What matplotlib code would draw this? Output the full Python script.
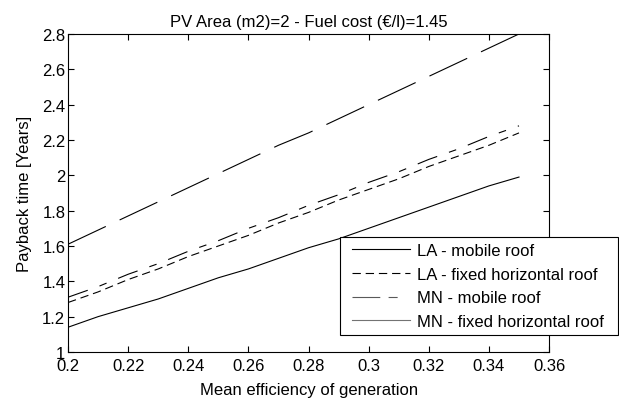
import numpy as np
import matplotlib
matplotlib.use("Agg")
import matplotlib.pyplot as plt
from matplotlib.lines import Line2D
from matplotlib.legend_handler import HandlerLine2D

plt.rcParams['font.family'] = ['Liberation Sans', 'DejaVu Sans']
plt.rcParams['lines.scale_dashes'] = False

# efficienza media e tempi di ritorno
efficienza = [0.20, 0.21, 0.22, 0.23, 0.24, 0.25, 0.26, 0.27,
              0.28, 0.29, 0.30, 0.31, 0.32, 0.33, 0.34, 0.35]
la_mobile = [1.14, 1.20, 1.25, 1.30, 1.36, 1.42, 1.47, 1.53,
             1.59, 1.64, 1.70, 1.76, 1.82, 1.88, 1.94, 1.99]
la_fisso = [1.28, 1.34, 1.41, 1.47, 1.54, 1.60, 1.66, 1.73,
            1.79, 1.86, 1.92, 1.98, 2.05, 2.11, 2.17, 2.24]
mn_mobile = [1.61, 1.69, 1.77, 1.85, 1.93, 2.01, 2.09, 2.17,
             2.24, 2.32, 2.40, 2.48, 2.56, 2.64, 2.72, 2.80]
mn_fisso = [1.31, 1.37, 1.44, 1.50, 1.57, 1.63, 1.70, 1.76,
            1.83, 1.89, 1.96, 2.02, 2.09, 2.15, 2.22, 2.28]

etichette = ["LA - mobile roof", "LA - fixed horizontal roof",
             "MN - mobile roof", "MN - fixed horizontal roof"]

fs = 12
fig = plt.figure(figsize=(6.19, 4.02), dpi=100)
ax = fig.add_axes([0.110, 0.122, 0.777, 0.791])

lw = 0.8
ax.plot(efficienza, la_mobile, color="black", lw=lw, linestyle="-", label=etichette[0])
ax.plot(efficienza, la_fisso, color="black", lw=lw, dashes=(6, 3.5), label=etichette[1])
ax.plot(efficienza, mn_mobile, color="black", lw=lw, dashes=(30, 11), label=etichette[2])
ax.plot(efficienza, mn_fisso, color="black", lw=lw, dashes=(15, 9, 5.5, 9), label=etichette[3])

ax.set_xlim(0.2, 0.36)
ax.set_ylim(1, 2.8)
ax.set_xticks(np.arange(0.2, 0.361, 0.02))
ax.set_xticklabels(["0.2", "0.22", "0.24", "0.26", "0.28", "0.3", "0.32", "0.34", "0.36"])
ax.set_yticks(np.arange(1, 2.81, 0.2))
ax.set_yticklabels(["1", "1.2", "1.4", "1.6", "1.8", "2", "2.2", "2.4", "2.6", "2.8"])
ax.tick_params(direction="in", top=True, right=True, length=4, width=0.8,
               labelsize=fs)
ax.tick_params(axis="x", pad=4)
ax.tick_params(axis="y", pad=2)
for s in ax.spines.values():
    s.set_linewidth(0.8)

ax.set_xlabel("Mean efficiency of generation", fontsize=fs, labelpad=7)
ax.set_ylabel("Payback time [Years]", fontsize=fs, labelpad=7)
ax.set_title("PV Area (m2)=2 - Fuel cost (\u20ac/l)=1.45", fontsize=fs, pad=6)

# legenda: riquadro da x=340 a 618 px, da y=238 a 340 px
leg = ax.legend(loc="upper left",
                bbox_to_anchor=(340 / 619, 1 - 340 / 402, 278 / 619, 102 / 402),
                bbox_transform=fig.transFigure, mode="expand", fontsize=fs,
                handlelength=3.84, handletextpad=0.42, borderpad=0.36,
                labelspacing=0.52, borderaxespad=0, fancybox=False,
                framealpha=1, edgecolor="black",
                handler_map={Line2D: HandlerLine2D(xpad=0.36)})
leg.get_frame().set_linewidth(0.8)
# nella legenda le ultime due linee appaiono grigie
righe = leg.get_lines()
righe[2].set_dashes((20, 6, 6.5, 10))
righe[2].set_color("0.35")
righe[3].set_linestyle("-")
righe[3].set_color("0.45")

fig.savefig("out.png", dpi=100)
